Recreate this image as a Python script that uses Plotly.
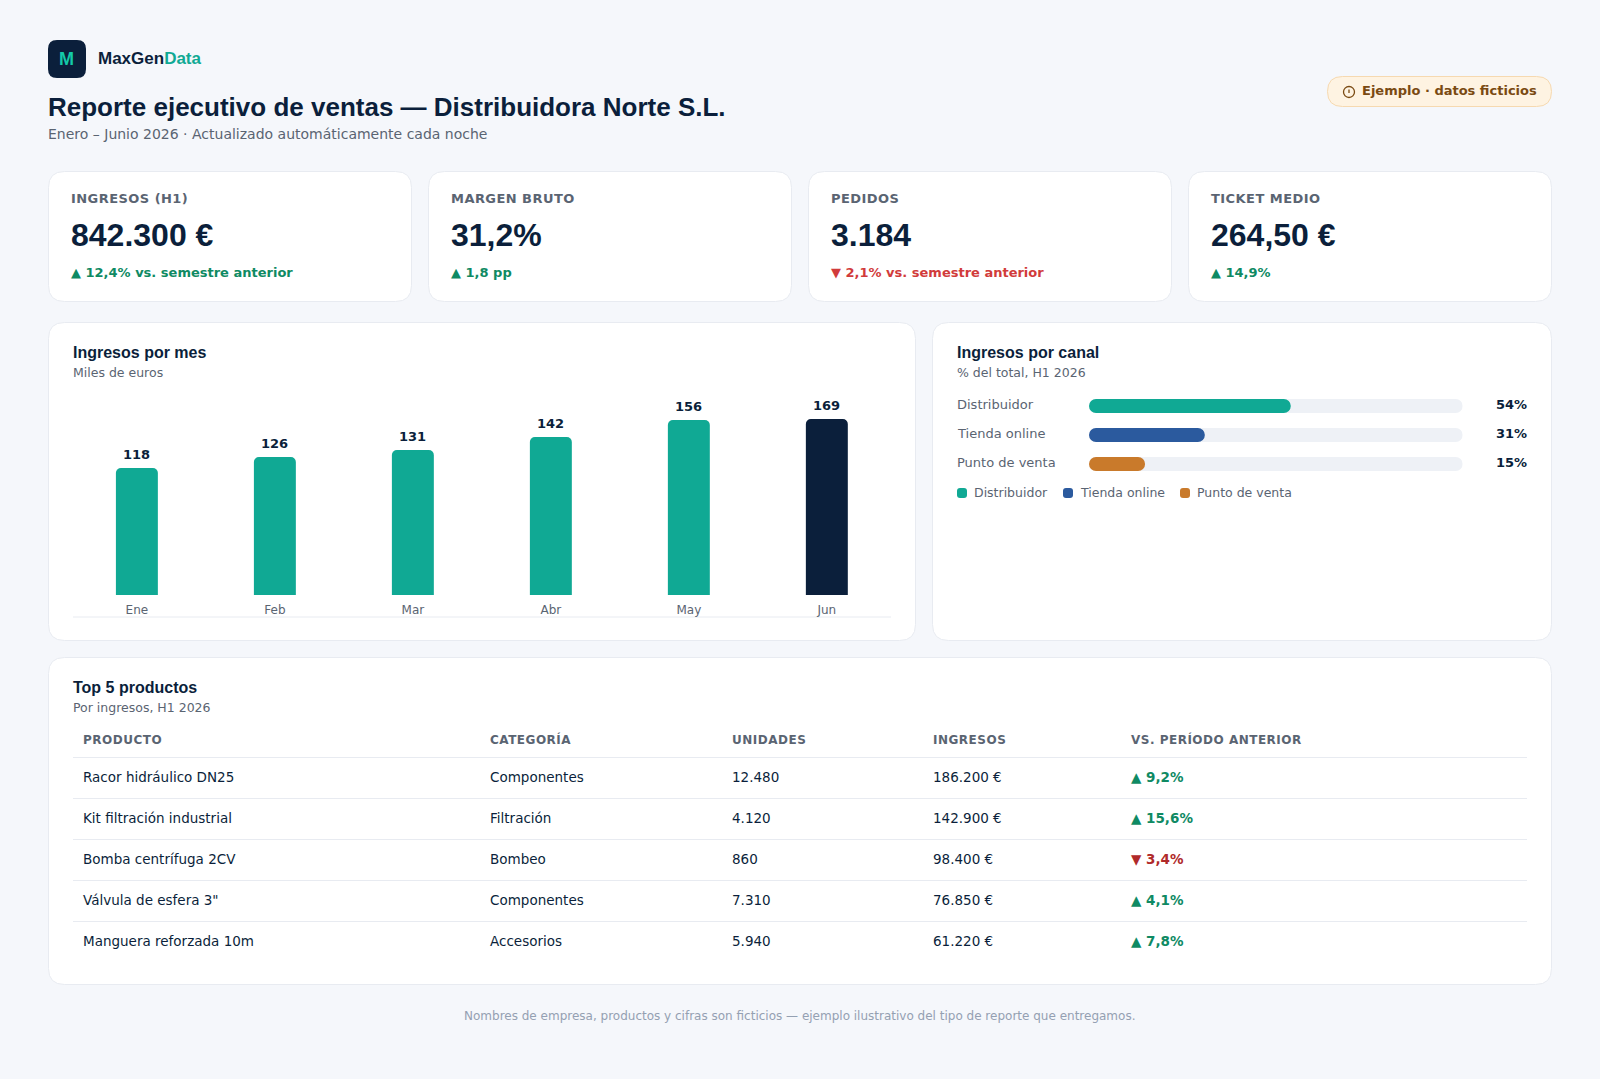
import plotly.graph_objects as go

W = 1600
H = 1079

BG = "#f5f7fb"
BORDER = "#e8ebf1"
NAVY = "#0b1f3b"
TEAL = "#10a994"
BLUE = "#2b5a9e"
ORANGE = "#c97a2b"
GREY = "#5a6472"
GREEN = "#0f8a63"
RED = "#d13b3b"
RED2 = "#b02a2a"
SANS = "DejaVu Sans"
ARIAL = "Liberation Sans"

# KPI cards
kpi_labels = ["INGRESOS (H1)", "MARGEN BRUTO", "PEDIDOS", "TICKET MEDIO"]
kpi_values = ["842.300 €", "31,2%", "3.184", "264,50 €"]
kpi_deltas = ["▲ 12,4% vs. semestre anterior", "▲ 1,8 pp", "▼ 2,1% vs. semestre anterior", "▲ 14,9%"]

# monthly bars: labels are what the chart prints, heights are what it draws
months = ["Ene", "Feb", "Mar", "Abr", "May", "Jun"]
month_labels = [118, 126, 131, 142, 156, 169]
month_heights = [127, 138, 145, 158, 175, 176]
month_colors = [TEAL, TEAL, TEAL, TEAL, TEAL, NAVY]

# channel share
channels = ["Distribuidor", "Tienda online", "Punto de venta"]
channel_share = [54, 31, 15]
channel_colors = [TEAL, BLUE, ORANGE]
track_total = [100, 100, 100]

# table
table_headers = ["PRODUCTO", "CATEGORÍA", "UNIDADES", "INGRESOS", "VS. PERÍODO ANTERIOR"]
products = ["Racor hidráulico DN25", "Kit filtración industrial", "Bomba centrífuga 2CV",
            "Válvula de esfera 3\"", "Manguera reforzada 10m"]
categories = ["Componentes", "Filtración", "Bombeo", "Componentes", "Accesorios"]
units = ["12.480", "4.120", "860", "7.310", "5.940"]
revenue = ["186.200 €", "142.900 €", "98.400 €", "76.850 €", "61.220 €"]
changes = ["▲ 9,2%", "▲ 15,6%", "▼ 3,4%", "▲ 4,1%", "▲ 7,8%"]


def px(x):
    return x / W


def py(y):
    return 1 - y / H


def round_rect(x0, y0, x1, y1, r, fill, line=None):
    p = (
        f"M {px(x0 + r)} {py(y0)} L {px(x1 - r)} {py(y0)} Q {px(x1)} {py(y0)} {px(x1)} {py(y0 + r)} "
        f"L {px(x1)} {py(y1 - r)} Q {px(x1)} {py(y1)} {px(x1 - r)} {py(y1)} "
        f"L {px(x0 + r)} {py(y1)} Q {px(x0)} {py(y1)} {px(x0)} {py(y1 - r)} "
        f"L {px(x0)} {py(y0 + r)} Q {px(x0)} {py(y0)} {px(x0 + r)} {py(y0)} Z"
    )
    return dict(type="path", xref="paper", yref="paper", path=p, fillcolor=fill,
                line=dict(color=line or fill, width=1 if line else 0), layer="below")


def hline(x0, x1, y, color=BORDER):
    return dict(type="line", xref="paper", yref="paper", x0=px(x0), x1=px(x1), y0=py(y), y1=py(y),
                line=dict(color=color, width=1), layer="below")


def label(x, y, s, size, color=GREY, family=SANS, bold=False, anchor="left", spacing=None):
    if spacing:
        s = f'<span style="letter-spacing:{spacing}px">{s}</span>'
    if anchor == "left":
        x = x - 1
    return dict(xref="paper", yref="paper", x=px(x), y=py(y), text=s, showarrow=False,
                xanchor=anchor, yanchor="middle", borderpad=0,
                font=dict(size=size, color=color, family=family, weight=700 if bold else 400))


shapes = []
notes = []

# header
shapes.append(round_rect(48, 40, 86, 78, 9, NAVY))
notes.append(label(66.5, 59, "M", 18, "#14c9a8", ARIAL, True, "center"))
notes.append(label(98, 58, f'MaxGen<span style="color:{TEAL}">Data</span>', 17, NAVY, ARIAL, True))
notes.append(label(48, 107, "Reporte ejecutivo de ventas — Distribuidora Norte S.L.", 26, NAVY, ARIAL, True))
notes.append(label(48, 134, "Enero – Junio 2026 · Actualizado automáticamente cada noche", 14, GREY))

# badge
shapes.append(round_rect(1327.5, 76.5, 1551.5, 106.5, 15, "#fef3e2", "#f6d9b0"))
shapes.append(dict(type="circle", xref="paper", yref="paper", x0=px(1343.5), x1=px(1354.5), y0=py(97.5), y1=py(86.5),
                   line=dict(color="#7a4a12", width=1.3), fillcolor="rgba(0,0,0,0)"))
shapes.append(dict(type="line", xref="paper", yref="paper", x0=px(1349), x1=px(1349), y0=py(89.5), y1=py(93),
                   line=dict(color="#7a4a12", width=1.3)))
notes.append(label(1362, 91, "Ejemplo · datos ficticios", 13, "#7a4a12", SANS, True))

# KPI cards
for i in range(4):
    x0 = 48 + 380 * i
    shapes.append(round_rect(x0 + 0.5, 171.5, x0 + 363.5, 301.5, 16, "white", BORDER))
    notes.append(label(x0 + 22.8, 198.6, kpi_labels[i], 13, GREY, SANS, True, spacing=0.45))
    notes.append(label(x0 + 22.8, 235, kpi_values[i], 32, NAVY, ARIAL, True))
    notes.append(label(x0 + 22.8, 272, kpi_deltas[i], 13, RED if kpi_deltas[i][0] == "▼" else GREEN, SANS, True))

# chart cards
shapes.append(round_rect(48.5, 322.5, 915.5, 640.5, 16, "white", BORDER))
shapes.append(round_rect(932.5, 322.5, 1551.5, 640.5, 16, "white", BORDER))
notes.append(label(73, 353, "Ingresos por mes", 16, NAVY, ARIAL, True))
notes.append(label(73, 372.5, "Miles de euros", 12.5, GREY))
notes.append(label(957, 353, "Ingresos por canal", 16, NAVY, ARIAL, True))
notes.append(label(957, 372.5, "% del total, H1 2026", 12.5, GREY))

shapes.append(hline(73, 891, 617))

fig = go.Figure()

fig.add_trace(go.Bar(x=months, y=month_heights, width=0.304, marker=dict(color=month_colors, cornerradius=5, line_width=0),
                     xaxis="x", yaxis="y", hoverinfo="skip"))

for m, v, h in zip(months, month_labels, month_heights):
    notes.append(dict(xref="x", yref="y", x=m, y=h, text=str(v), showarrow=False, yanchor="bottom", yshift=5, borderpad=0,
                      font=dict(size=13, color=NAVY, family=SANS, weight=700)))

# channel tracks and fills, an explicit base rounds both ends
for values, colors in ((track_total, ["#eef1f6"] * 3), (channel_share, channel_colors)):
    fig.add_trace(go.Bar(y=channels, x=values, base=[0, 0, 0], orientation="h", width=0.483,
                         marker=dict(color=colors, cornerradius=7, line_width=0),
                         xaxis="x2", yaxis="y2", hoverinfo="skip"))

for c, s in zip(channels, channel_share):
    notes.append(dict(xref="paper", yref="y2", x=px(956), y=c, text=c, showarrow=False, xanchor="left", yshift=1, borderpad=0,
                      font=dict(size=13, color=GREY, family=SANS)))
    notes.append(dict(xref="paper", yref="y2", x=px(1528), y=c, text=f"{s}%", showarrow=False, xanchor="right", yshift=1, borderpad=0,
                      font=dict(size=13, color=NAVY, family=SANS, weight=700)))

# legend row
legend_swatch_x = [957, 1063, 1180]
for c, col, x in zip(channels, channel_colors, legend_swatch_x):
    shapes.append(round_rect(x, 488, x + 10, 498, 3, col))
    notes.append(label(x + 17, 492.5, c, 12.5, GREY))

# table card
shapes.append(round_rect(48.5, 657.5, 1551.5, 984.5, 16, "white", BORDER))
notes.append(label(73, 687.5, "Top 5 productos", 16, NAVY, ARIAL, True))
notes.append(label(73, 707, "Por ingresos, H1 2026", 12.5, GREY))

col_x = [83, 490, 732, 933, 1130.5]
for x, head in zip(col_x, table_headers):
    notes.append(label(x, 739.7, head, 12, GREY, SANS, True, spacing=0.5))
shapes.append(hline(73, 1527, 757.5))
for i in range(5):
    y = 776.5 + 41 * i
    notes.append(label(col_x[0], y, products[i], 13.5, NAVY))
    notes.append(label(col_x[1], y, categories[i], 13.5, NAVY))
    notes.append(label(col_x[2], y, units[i], 13.5, NAVY))
    notes.append(label(col_x[3], y, revenue[i], 13.5, NAVY))
    notes.append(label(col_x[4], y, changes[i], 13.5, RED2 if changes[i][0] == "▼" else GREEN, SANS, True))
    if i < 4:
        shapes.append(hline(73, 1527, y + 22))

notes.append(label(799.5, 1015.5, "Nombres de empresa, productos y cifras son ficticios — ejemplo ilustrativo del tipo de reporte que entregamos.",
                   12, "#94a0b2", SANS, False, "center"))

fig.update_layout(
    width=W,
    height=H,
    margin=dict(l=0, r=0, t=0, b=0),
    paper_bgcolor=BG,
    plot_bgcolor="rgba(0,0,0,0)",
    barmode="overlay",
    showlegend=False,
    shapes=shapes,
    annotations=notes,
    xaxis=dict(domain=[px(73), px(891)], range=[-0.463, 5.465], type="category", categoryorder="array", categoryarray=months,
               showgrid=False, zeroline=False, showline=False, ticks="outside", ticklen=4, tickcolor="rgba(0,0,0,0)",
               tickfont=dict(size=12, color=GREY, family=SANS)),
    yaxis=dict(domain=[py(595), py(400)], range=[0, 195], visible=False),
    xaxis2=dict(domain=[px(1089), px(1462.7)], range=[0, 100], visible=False, anchor="y2"),
    yaxis2=dict(domain=[py(478.5), py(391.5)], range=[2.5, -0.5], type="category", categoryorder="array", categoryarray=channels,
                visible=False, anchor="x2"),
)

fig.write_html("out.html", config=dict(displayModeBar=False),
               post_script="document.body.style.margin='0';document.body.style.background='" + BG + "';")
